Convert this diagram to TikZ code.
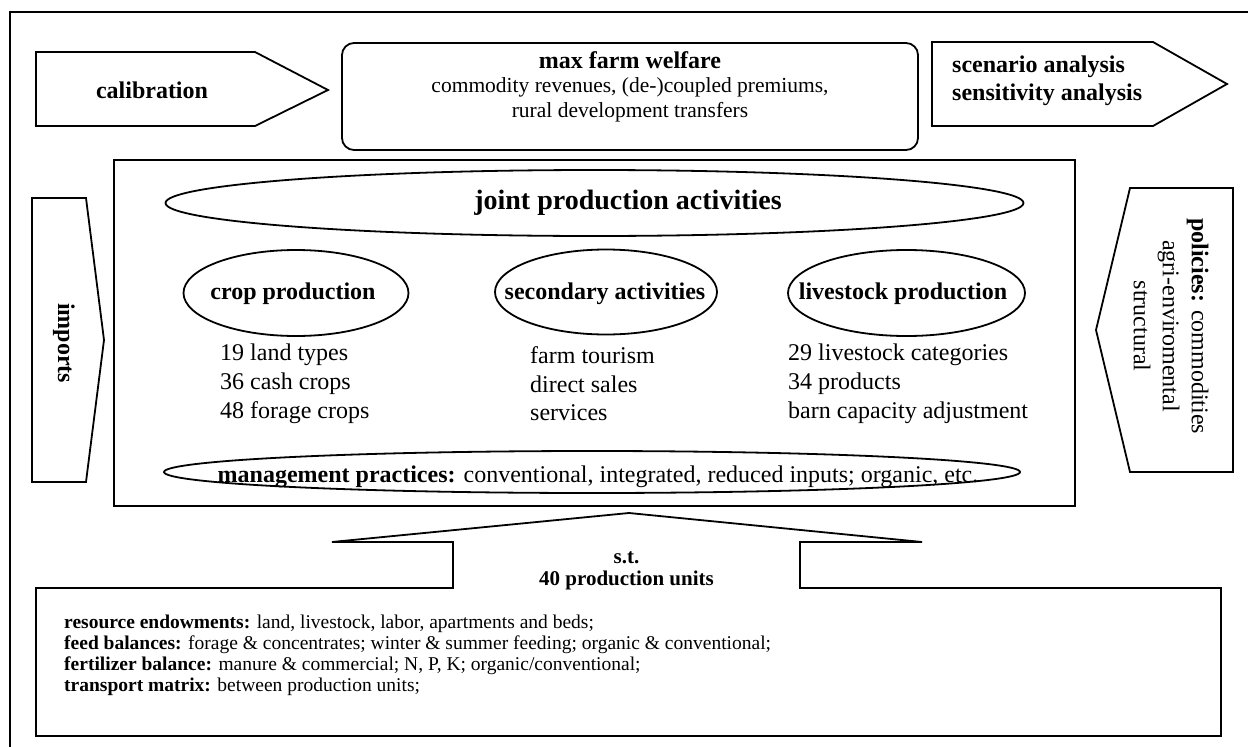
\documentclass[tikz,border=0pt]{standalone}
\usepackage{fontspec}
\setmainfont{Liberation Serif}
\usetikzlibrary{shapes.geometric}
\begin{document}
\begin{tikzpicture}[x=1pt,y=-1pt,line join=miter]
\tikzset{
  outline/.style={draw=black,line width=1.8pt},
  ell/.style={ellipse,draw=black,line width=1.8pt,inner sep=0pt},
  big/.style={inner sep=0pt,font=\fontsize{24}{29}\selectfont},
  head/.style={inner sep=0pt,font=\fontsize{24}{29}\selectfont\bfseries},
  joint/.style={inner sep=0pt,font=\fontsize{28}{32}\selectfont\bfseries},
  mid/.style={inner sep=0pt,font=\fontsize{21.5}{25}\selectfont},
  small/.style={inner sep=0pt,font=\fontsize{19.5}{21}\selectfont,anchor=west},
  listtxt/.style={inner sep=0pt,font=\fontsize{24}{29}\selectfont,anchor=west}
}
\useasboundingbox (0,0) rectangle (1248,747);
\begin{scope}
\clip (0,0) rectangle (1248,747);
% outer frame
\draw[outline] (10,12) rectangle (1260,760);
\end{scope}

% calibration arrow
\draw[outline] (36,52) -- (255,52) -- (328,90) -- (255,126) -- (36,126) -- cycle;
\node[head] (calib) at (152,90) {calibration};

% max farm welfare
\node[draw=black,line width=1.8pt,rounded corners=12pt,minimum width=576pt,minimum height=107pt,inner sep=0pt] (welfare) at (630,96.5) {};
\node[head] (welfareT) at (630,60) {max farm welfare};
\node[mid] (welfareA) at (630,87) {commodity revenues, (de-)coupled premiums,};
\node[mid] (welfareB) at (630,112) {rural development transfers};

% scenario arrow
\draw[outline] (932,42) -- (1153,42) -- (1227,84) -- (1153,126) -- (932,126) -- cycle;
\node[head,anchor=west] (scen1) at (952,67) {scenario analysis};
\node[head,anchor=west] (scen2) at (952,95) {sensitivity analysis};

% imports arrow
\draw[outline] (32,198) -- (86,198) -- (104,340) -- (86,482) -- (32,482) -- cycle;
\node[head,rotate=-90] (imports) at (64,343) {imports};

% policies arrow
\draw[outline] (1130,188) -- (1233,188) -- (1233,472) -- (1130,472) -- (1096,330) -- cycle;
\node[big,rotate=-90,align=center] (policies) at (1171,326) {\textbf{policies:} commodities\\agri-enviromental\\structural};

% main box
\node[draw=black,line width=1.8pt,minimum width=961pt,minimum height=346pt,inner sep=0pt] (mainbox) at (594.5,333) {};

% joint production activities
\node[ell,minimum width=858pt,minimum height=66pt] (jointE) at (594.5,203) {};
\node[joint] (jointT) at (628,203) {joint production activities};

% three ellipses
\node[ell,minimum width=225pt,minimum height=86pt] (cropE) at (296,293) {};
\node[head] (cropT) at (293,294) {crop production};
\node[ell,minimum width=222pt,minimum height=85pt] (secE) at (606,292) {};
\node[head] (secT) at (605,294) {secondary activities};
\node[ell,minimum width=237pt,minimum height=86pt] (liveE) at (906.5,293) {};
\node[head] (liveT) at (903,294) {livestock production};

% lists
\node[listtxt] (c1) at (220,355) {19 land types};
\node[listtxt] (c2) at (220,384) {36 cash crops};
\node[listtxt] (c3) at (220,413) {48 forage crops};
\node[listtxt] (s1) at (530,355) {farm tourism};
\node[listtxt] (s2) at (530,384) {direct sales};
\node[listtxt] (s3) at (530,413) {services};
\node[listtxt] (l1) at (788,355) {29 livestock categories};
\node[listtxt] (l2) at (788,384) {34 products};
\node[listtxt] (l3) at (788,413) {barn capacity adjustment};

% management practices
\node[ell,minimum width=856pt,minimum height=42pt] (mgmtE) at (592,472) {};
\node[big] (mgmtT) at (598,477) {\textbf{management practices:} conventional, integrated, reduced inputs; organic, etc.};

% s.t. arrow merged with bottom box
\draw[outline] (453,588) -- (453,542) -- (332,542) -- (629,513) -- (922,542) -- (800,542) -- (800,588)
  -- (1221,588) -- (1221,736) -- (36,736) -- (36,588) -- cycle;
\draw[white,line width=2.2pt] (454.5,588) -- (798.5,588);
\node[inner sep=0pt,font=\fontsize{21}{22}\selectfont\bfseries,align=center] (st) at (626.5,571) {s.t.\\40 production units};

% bottom texts
\node[small] (b1) at (64,624) {\textbf{resource endowments:} land, livestock, labor, apartments and beds;};
\node[small] (b2) at (64,645) {\textbf{feed balances:} forage \& concentrates; winter \& summer feeding; organic \& conventional;};
\node[small] (b3) at (64,666) {\textbf{fertilizer balance:} manure \& commercial; N, P, K; organic/conventional;};
\node[small] (b4) at (64,687) {\textbf{transport matrix:} between production units;};
\end{tikzpicture}
\end{document}
